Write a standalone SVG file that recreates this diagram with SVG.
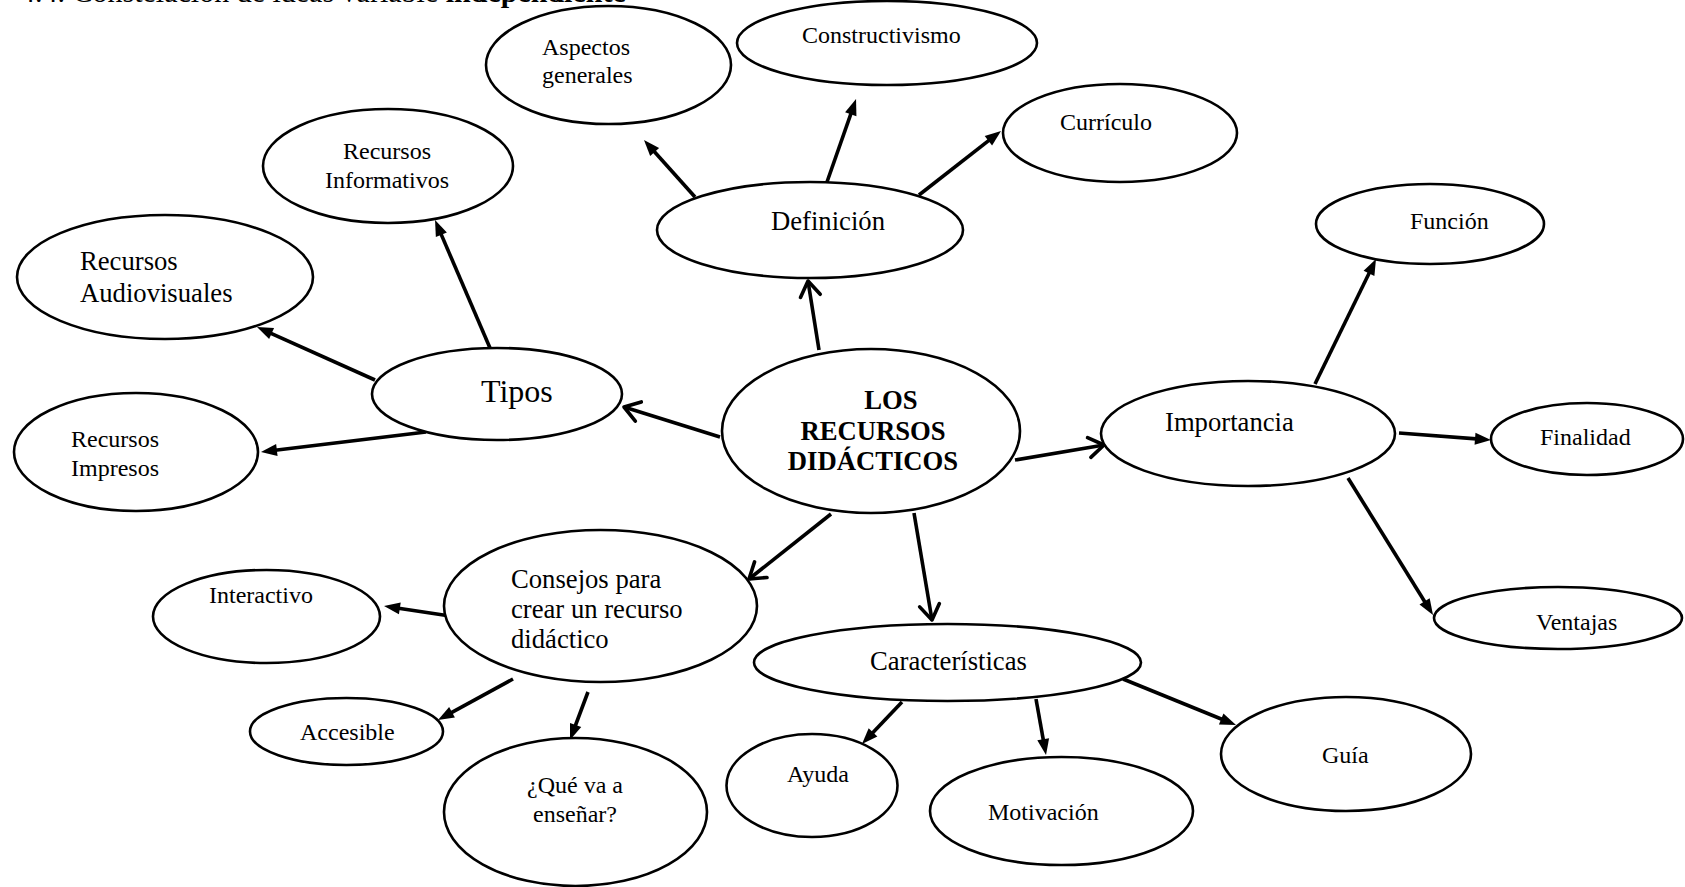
<svg xmlns="http://www.w3.org/2000/svg" width="1685" height="887" viewBox="0 0 1685 887">
<style>
.n ellipse{fill:#fff;stroke:#000;stroke-width:2.6}
text{font-family:"Liberation Serif","Times New Roman",serif;fill:#000}
.s{font-size:24px}
.m{font-size:26.67px}
.b{font-weight:bold}
.c{stroke:#000;stroke-width:3.6;fill:none}
</style>
<defs>
<marker id="fa" markerUnits="userSpaceOnUse" markerWidth="17" markerHeight="13" refX="8" refY="6" orient="auto" overflow="visible">
<path d="M0,0 L16,6 L0,12 z" fill="#000"/>
</marker>
<marker id="oa" markerUnits="userSpaceOnUse" markerWidth="16" markerHeight="20" refX="15" refY="10" orient="auto" overflow="visible">
<path d="M0,0 L15,10 L0,20" fill="none" stroke="#000" stroke-width="3.6" stroke-linejoin="round" stroke-linecap="round"/>
</marker>
</defs>
<rect width="1685" height="887" fill="#fff"/>
<text x="20" y="2" style="font-size:30px">4.4. Constelación de ideas variable <tspan class="b">independiente</tspan></text>

<g id="connectors" class="c">
<line x1="819" y1="350" x2="808" y2="281" marker-end="url(#oa)"/>
<line x1="720" y1="437" x2="624" y2="407" marker-end="url(#oa)"/>
<line x1="1015" y1="460" x2="1104" y2="445" marker-end="url(#oa)"/>
<line x1="831" y1="514" x2="749" y2="579" marker-end="url(#oa)"/>
<line x1="914" y1="513" x2="932" y2="620" marker-end="url(#oa)"/>
<line x1="695" y1="197" x2="649.3" y2="146" marker-end="url(#fa)"/>
<line x1="827" y1="182" x2="853.4" y2="106.6" marker-end="url(#fa)"/>
<line x1="919" y1="195" x2="994.7" y2="135.9" marker-end="url(#fa)"/>
<line x1="490" y1="348" x2="438.2" y2="227.4" marker-end="url(#fa)"/>
<line x1="375" y1="380" x2="264.3" y2="330.3" marker-end="url(#fa)"/>
<line x1="426" y1="432" x2="268.9" y2="451" marker-end="url(#fa)"/>
<line x1="1315" y1="384" x2="1372.5" y2="266.2" marker-end="url(#fa)"/>
<line x1="1399" y1="433" x2="1483" y2="439.4" marker-end="url(#fa)"/>
<line x1="1348" y1="478" x2="1428.8" y2="608.2" marker-end="url(#fa)"/>
<line x1="450" y1="616" x2="391.9" y2="607.2" marker-end="url(#fa)"/>
<line x1="513" y1="679" x2="445" y2="716.2" marker-end="url(#fa)"/>
<line x1="588" y1="692" x2="572.8" y2="732.5" marker-end="url(#fa)"/>
<line x1="902" y1="702" x2="867.5" y2="738.2" marker-end="url(#fa)"/>
<line x1="1036" y1="699" x2="1044.6" y2="747.1" marker-end="url(#fa)"/>
<line x1="1123" y1="679" x2="1228.6" y2="722" marker-end="url(#fa)"/>
</g>

<g id="center" class="n">
<ellipse cx="871" cy="431" rx="149" ry="82"/>
<text class="m b" text-anchor="middle"><tspan x="891" y="409">LOS</tspan><tspan x="873" y="440">RECURSOS</tspan><tspan x="873" y="470">DIDÁCTICOS</tspan></text>
</g>
<g id="aspectos" class="n">
<ellipse cx="608.5" cy="65" rx="122.5" ry="59"/>
<text class="s"><tspan x="542" y="55">Aspectos</tspan><tspan x="542" y="83">generales</tspan></text>
</g>
<g id="constructivismo" class="n">
<ellipse cx="887" cy="43" rx="150" ry="42"/>
<text class="s" x="802" y="43">Constructivismo</text>
</g>
<g id="curriculo" class="n">
<ellipse cx="1120" cy="133" rx="117" ry="49"/>
<text class="s" x="1060" y="130">Currículo</text>
</g>
<g id="definicion" class="n">
<ellipse cx="810" cy="230" rx="153" ry="48"/>
<text class="m" x="771" y="230">Definición</text>
</g>
<g id="informativos" class="n">
<ellipse cx="388" cy="166" rx="125" ry="57"/>
<text class="s" text-anchor="middle"><tspan x="387" y="159">Recursos</tspan><tspan x="387" y="188">Informativos</tspan></text>
</g>
<g id="audiovisuales" class="n">
<ellipse cx="165" cy="277" rx="148" ry="62"/>
<text class="m"><tspan x="80" y="270">Recursos</tspan><tspan x="80" y="302">Audiovisuales</tspan></text>
</g>
<g id="impresos" class="n">
<ellipse cx="136" cy="452" rx="122" ry="59"/>
<text class="s"><tspan x="71" y="447">Recursos</tspan><tspan x="71" y="476">Impresos</tspan></text>
</g>
<g id="tipos" class="n">
<ellipse cx="497" cy="394" rx="125" ry="46"/>
<text x="481" y="402" style="font-size:32px">Tipos</text>
</g>
<g id="importancia" class="n">
<ellipse cx="1248" cy="433.5" rx="147" ry="52.5"/>
<text class="m" x="1165" y="431">Importancia</text>
</g>
<g id="funcion" class="n">
<ellipse cx="1430" cy="224" rx="114" ry="40"/>
<text class="s" x="1410" y="229">Función</text>
</g>
<g id="finalidad" class="n">
<ellipse cx="1587" cy="439" rx="96" ry="36"/>
<text class="s" x="1540" y="445">Finalidad</text>
</g>
<g id="ventajas" class="n">
<ellipse cx="1558" cy="618" rx="124" ry="31"/>
<text class="s" x="1536" y="630">Ventajas</text>
</g>
<g id="consejos" class="n">
<ellipse cx="600.5" cy="606" rx="156.5" ry="76"/>
<text class="m"><tspan x="511" y="588">Consejos para</tspan><tspan x="511" y="618">crear un recurso</tspan><tspan x="511" y="648">didáctico</tspan></text>
</g>
<g id="interactivo" class="n">
<ellipse cx="266.5" cy="616.5" rx="113.5" ry="46.5"/>
<text class="s" x="209" y="603">Interactivo</text>
</g>
<g id="accesible" class="n">
<ellipse cx="346.5" cy="731.5" rx="96.5" ry="33.5"/>
<text class="s" x="300" y="740">Accesible</text>
</g>
<g id="que" class="n">
<ellipse cx="575.5" cy="812" rx="131.5" ry="74"/>
<text class="s" text-anchor="middle"><tspan x="575" y="793">¿Qué va a</tspan><tspan x="575" y="822">enseñar?</tspan></text>
</g>
<g id="caracteristicas" class="n">
<ellipse cx="947.5" cy="662.5" rx="193.5" ry="38.5"/>
<text class="m" x="870" y="670">Características</text>
</g>
<g id="ayuda" class="n">
<ellipse cx="812" cy="785.5" rx="85.5" ry="51.5"/>
<text class="s" x="787" y="782">Ayuda</text>
</g>
<g id="motivacion" class="n">
<ellipse cx="1061.5" cy="811" rx="131.5" ry="54"/>
<text class="s" x="988" y="820">Motivación</text>
</g>
<g id="guia" class="n">
<ellipse cx="1346" cy="754" rx="125" ry="57"/>
<text class="s" x="1322" y="763">Guía</text>
</g>
</svg>
